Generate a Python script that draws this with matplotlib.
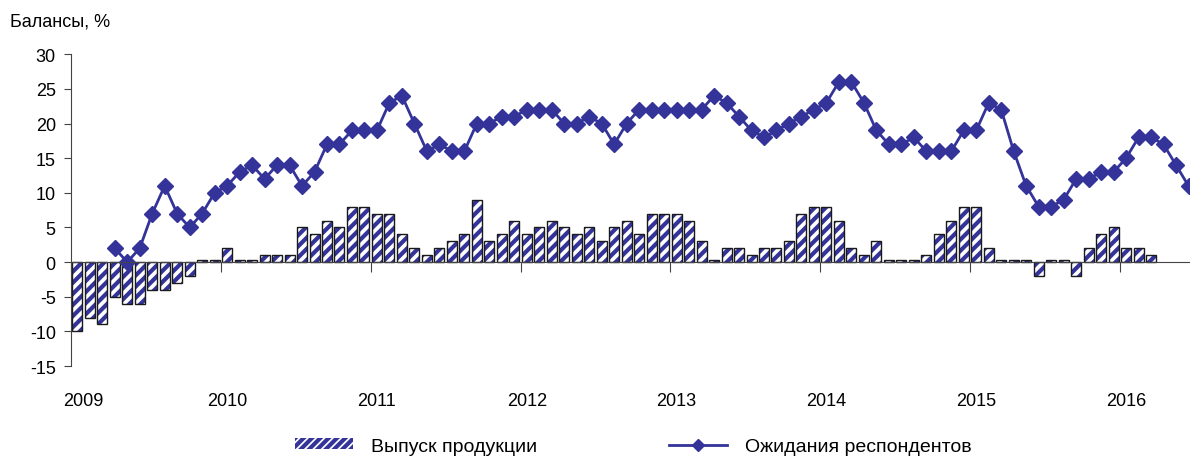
import matplotlib.pyplot as plt
import matplotlib.transforms as mtransforms
from matplotlib.patches import Patch
from matplotlib.lines import Line2D
import numpy as np

plt.rcParams['font.family'] = ['Liberation Sans', 'DejaVu Sans']
plt.rcParams['hatch.linewidth'] = 3.0
plt.rcParams['axes.unicode_minus'] = False

# monthly data, Jan 2009 - Jun 2016
years = ['2009', '2010', '2011', '2012', '2013', '2014', '2015', '2016']
output = [-10, -8, -9, -5, -6, -6, -4, -4, -3, -2, 0.3, 0.3,
          2, 0.3, 0.3, 1, 1, 1, 5, 4, 6, 5, 8, 8,
          7, 7, 4, 2, 1, 2, 3, 4, 9, 3, 4, 6,
          4, 5, 6, 5, 4, 5, 3, 5, 6, 4, 7, 7,
          7, 6, 3, 0.3, 2, 2, 1, 2, 2, 3, 7, 8,
          8, 6, 2, 1, 3, 0.3, 0.3, 0.3, 1, 4, 6, 8,
          8, 2, 0.3, 0.3, 0.3, -2, 0.3, 0.3, -2, 2, 4, 5,
          2, 2, 1, np.nan, np.nan, np.nan]
expect = [np.nan, np.nan, np.nan, 2, 0, 2, 7, 11, 7, 5, 7, 10,
          11, 13, 14, 12, 14, 14, 11, 13, 17, 17, 19, 19,
          19, 23, 24, 20, 16, 17, 16, 16, 20, 20, 21, 21,
          22, 22, 22, 20, 20, 21, 20, 17, 20, 22, 22, 22,
          22, 22, 22, 24, 23, 21, 19, 18, 19, 20, 21, 22,
          23, 26, 26, 23, 19, 17, 17, 18, 16, 16, 16, 19,
          19, 23, 22, 16, 11, 8, 8, 9, 12, 12, 13, 13,
          15, 18, 18, 17, 14, 11]

blue = '#333399'
x = np.arange(len(output))

fig = plt.figure(figsize=(11.9, 4.6), dpi=100)
ax = fig.add_axes([0.0597, 0.202, 0.9403, 0.678])

ax.bar(x, output, width=0.8, color='white', edgecolor=blue, hatch='///', linewidth=0)
ax.bar(x, output, width=0.8, fill=False, edgecolor='#1a1a1a', linewidth=1.0)
ax.plot(x, expect, color=blue, linewidth=2, marker='D', markersize=8)

ax.set_xlim(-0.5, 89.12)
ax.set_ylim(-15, 30)
ax.set_yticks(np.arange(-15, 31, 5))
ax.tick_params(axis='y', direction='out', length=5, labelsize=13, color='#444444', pad=6)

ax.spines['top'].set_visible(False)
ax.spines['right'].set_visible(False)
ax.spines['left'].set_color('#444444')
ax.spines['bottom'].set_position(('data', 0))
ax.spines['bottom'].set_color('#444444')
ax.set_xticks(np.arange(len(years)) * 12 - 0.5)
ax.set_xticklabels([])
ax.tick_params(axis='x', direction='out', length=7, color='#444444')

trans = mtransforms.blended_transform_factory(ax.transData, ax.transAxes)
for i, yr in enumerate(years):
    xp = i * 12 + (0.5 if i == 0 else 0)
    ax.text(xp, -0.11, yr, transform=trans, ha='center', va='center', fontsize=13)

fig.text(0.008, 0.952, 'Балансы, %', fontsize=13, va='center', ha='left')

handles = [Patch(facecolor='white', edgecolor=blue, hatch='////', linewidth=0),
           Line2D([], [], color=blue, linewidth=2, marker='D', markersize=6)]
fig.legend(handles, ['Выпуск продукции', 'Ожидания респондентов'], loc='center',
           bbox_to_anchor=(0.532, 0.028), ncol=2, frameon=False, fontsize=14,
           handlelength=3.0, handleheight=0.45, columnspacing=6.8, handletextpad=0.9)

fig.savefig('out.png', dpi=100)
